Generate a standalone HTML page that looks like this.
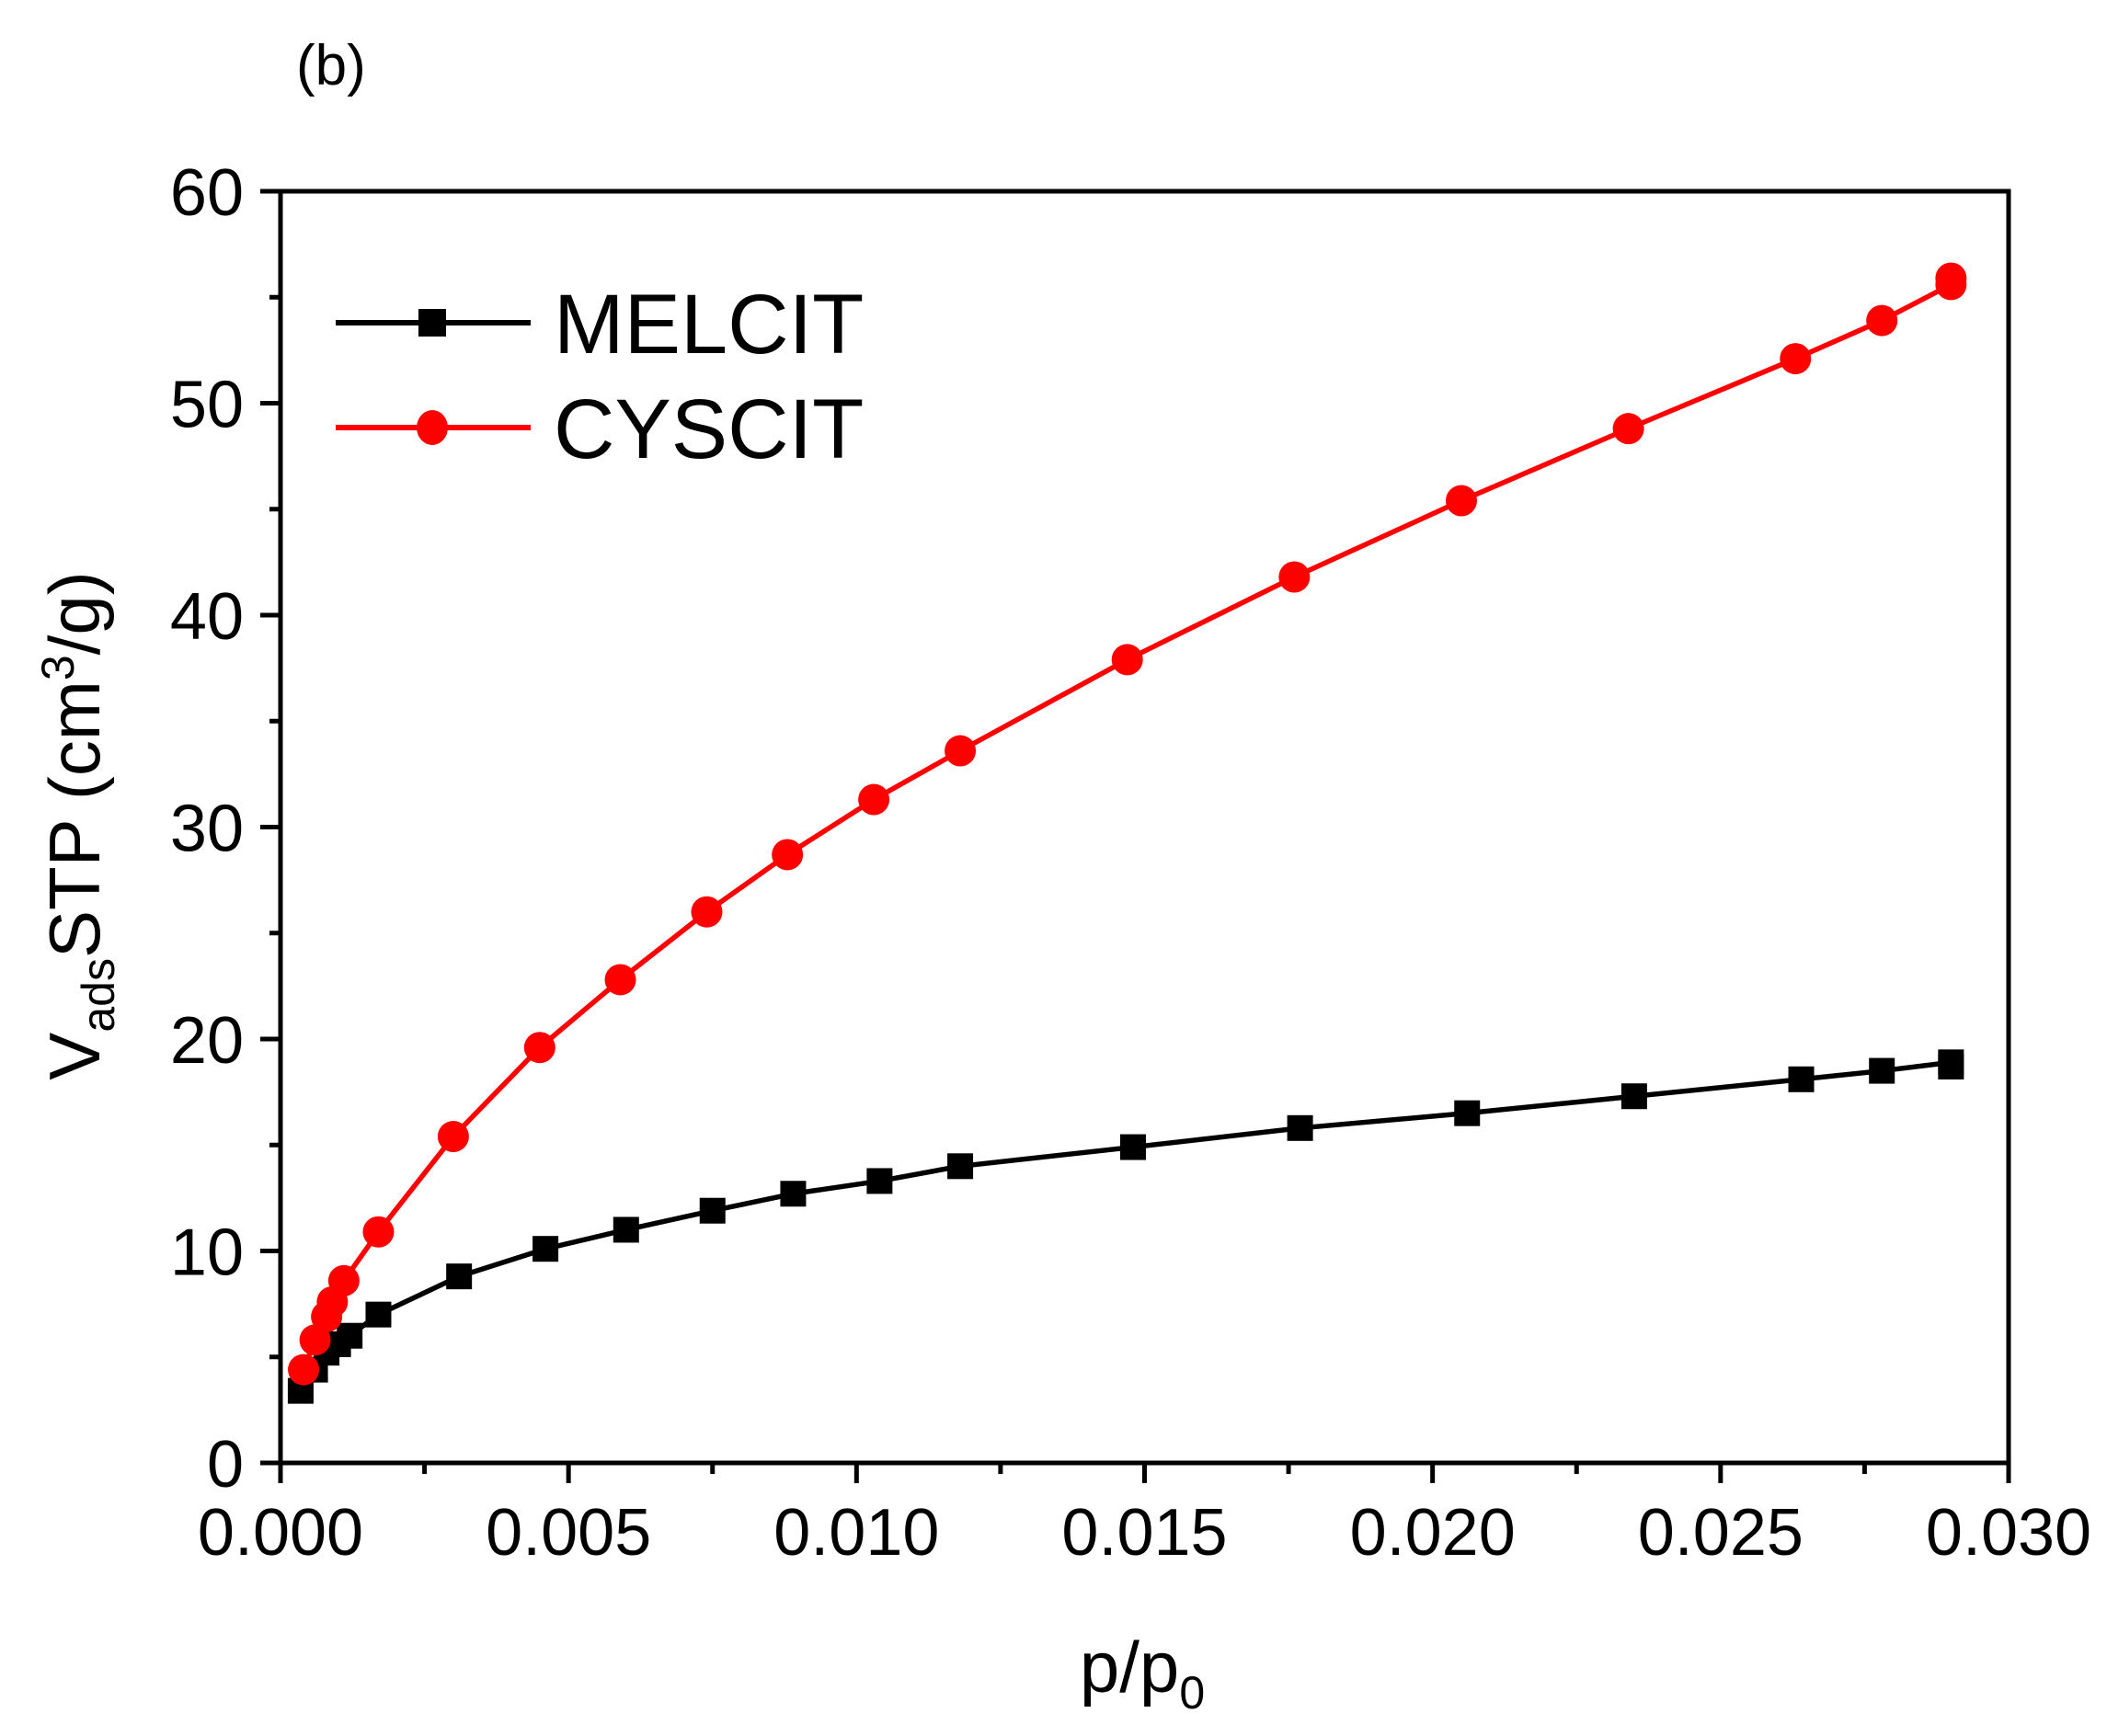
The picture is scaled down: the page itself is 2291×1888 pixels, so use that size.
<!DOCTYPE html>
<html><head><meta charset="utf-8"><style>
html,body{margin:0;padding:0;background:#fff}
svg{display:block}
text{font-family:"Liberation Sans",sans-serif;fill:#000}
</style></head><body>
<svg id="chart" width="2291" height="1888" viewBox="0 0 2291 1888" xmlns="http://www.w3.org/2000/svg">
<text x="322" y="92" font-size="62">(b)</text>
<g id="axes"></g>
<g id="series"></g>
<g id="legend"></g>
<text transform="translate(108,898) rotate(-90)" text-anchor="middle" font-size="78">V<tspan font-size="50" dy="16">ads</tspan><tspan dy="-16">STP (cm</tspan><tspan font-size="50" dy="-28">3</tspan><tspan dy="28">/g)</tspan></text>
<text x="1242" y="1840" text-anchor="middle" font-size="78">p/p<tspan font-size="50" dy="18">0</tspan></text>
</svg>
<script>
const melX=[0.00035,0.0006,0.0008,0.001,0.0012,0.0017,0.0031,0.0046,0.006,0.0075,0.0089,0.0104,0.0118,0.0148,0.0177,0.0206,0.0235,0.0264,0.0278,0.029,0.029];
const melY=[3.4,4.4,5.2,5.6,6.0,7.0,8.8,10.1,11.0,11.9,12.7,13.3,14.0,14.9,15.8,16.5,17.3,18.1,18.5,18.9,18.7];
const cysX=[0.0004,0.0006,0.0008,0.0009,0.0011,0.0017,0.0030,0.0045,0.0059,0.0074,0.0088,0.0103,0.0118,0.0147,0.0176,0.0205,0.0234,0.0263,0.0278,0.0290,0.0290];
const cysY=[4.4,5.8,6.9,7.6,8.6,10.9,15.4,19.6,22.8,26.0,28.7,31.3,33.6,37.9,41.8,45.4,48.8,52.1,53.9,55.6,55.9];
const xTicks=[0,0.005,0.010,0.015,0.020,0.025,0.030];
const xTickLabels=["0.000","0.005","0.010","0.015","0.020","0.025","0.030"];
const yTicks=[0,10,20,30,40,50,60];
const yTickLabels=["0","10","20","30","40","50","60"];

const NS="http://www.w3.org/2000/svg";
const L=305,R=2184,T=208,B=1591;
const sx=v=>L+(v-0)/(0.030)*(R-L);
const sy=v=>B-(v/60)*(B-T);
function mk(tag,attrs,parent){const e=document.createElementNS(NS,tag);for(const k in attrs)e.setAttribute(k,attrs[k]);parent.appendChild(e);return e;}
const axes=document.getElementById('axes');
const frame=mk('rect',{x:L,y:T,width:R-L,height:B-T,fill:'none',stroke:'#000','stroke-width':5},axes);


xTicks.forEach((v,i)=>{
  const t=mk('line',{x1:sx(v),x2:sx(v),y1:B,y2:B+22,stroke:'#000','stroke-width':5},axes);
  
  
  const lb=mk('text',{x:sx(v),y:B+100,'text-anchor':'middle','font-size':72},axes);
  lb.textContent=xTickLabels[i];
  
  
  if(i<xTicks.length-1){
    const m=mk('line',{x1:sx(v+0.0025),x2:sx(v+0.0025),y1:B,y2:B+12,stroke:'#000','stroke-width':5},axes);
    
    
  }
});
yTicks.forEach((v,i)=>{
  const t=mk('line',{x1:L-22,x2:L,y1:sy(v),y2:sy(v),stroke:'#000','stroke-width':5},axes);
  
  
  const lb=mk('text',{x:L-40,y:sy(v)+26,'text-anchor':'end','font-size':72},axes);
  lb.textContent=yTickLabels[i];
  
  
  if(i<yTicks.length-1){
    const m=mk('line',{x1:L-12,x2:L,y1:sy(v+5),y2:sy(v+5),stroke:'#000','stroke-width':5},axes);
    
    
  }
});
const series=document.getElementById('series');
function drawSeries(xs,ys,color,shape,name){
  const g=mk('g',{},series);
  
  
  const pts=xs.map((x,i)=>sx(x)+','+sy(ys[i])).join(' ');
  const pl=mk('polyline',{points:pts,fill:'none',stroke:color,'stroke-width':5.5,'stroke-linejoin':'round'},g);
  
  
  xs.forEach((x,i)=>{
    let m;
    if(shape==='square') m=mk('rect',{x:sx(x)-14,y:sy(ys[i])-14,width:28,height:28,fill:color},g);
    else m=mk('circle',{cx:sx(x),cy:sy(ys[i]),r:17,fill:color},g);
    
    
  });
}
drawSeries(melX,melY,'#000','square','melcit');
drawSeries(cysX,cysY,'#ff0000','circle','cyscit');
const leg=document.getElementById('legend');
[['MELCIT','#000','square',351],['CYSCIT','#ff0000','circle',465]].forEach(([lab,c,s,y])=>{
  const g=mk('g',{},leg);
  
  
  mk('line',{x1:365,x2:577,y1:y,y2:y,stroke:c,'stroke-width':6},g);
  if(s==='square') mk('rect',{x:455,y:y-15,width:30,height:30,fill:c},g);
  else mk('ellipse',{cx:470,cy:y,rx:17,ry:19,fill:c},g);
  const t=mk('text',{x:602,y:y+33,'font-size':92},g);
  t.textContent=lab;
});
</script>
</body></html>
